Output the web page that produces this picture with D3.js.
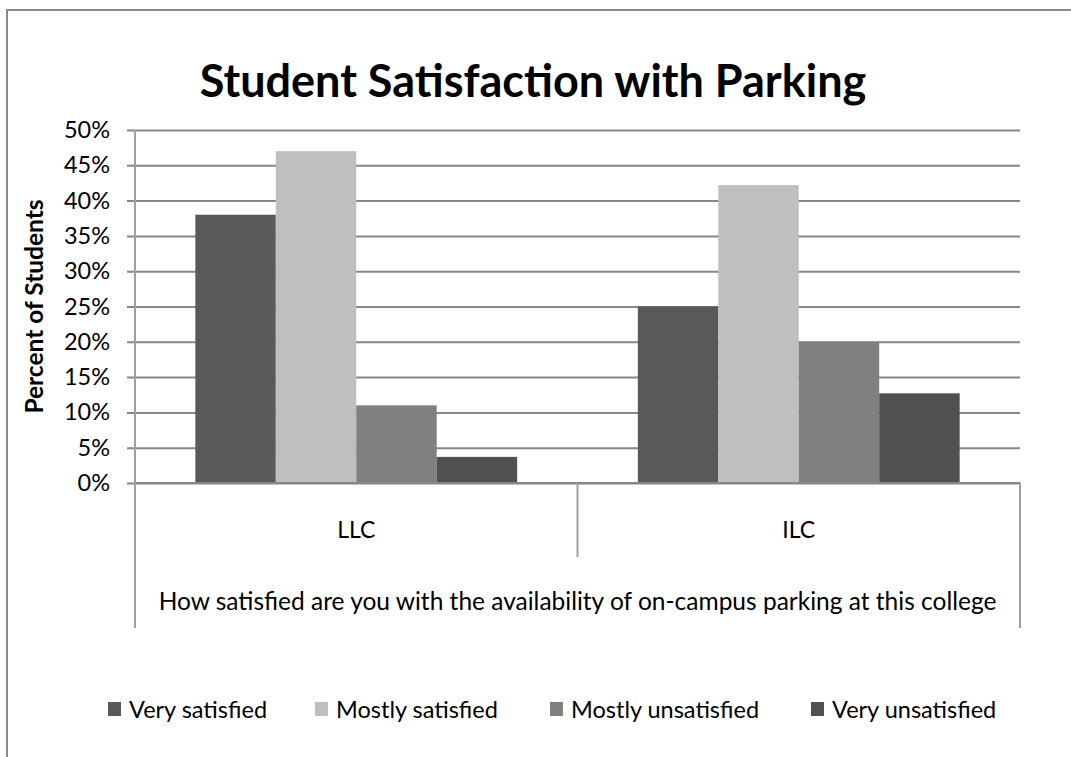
<!DOCTYPE html>
<html>
<head>
<meta charset="utf-8">
<script src="https://cdn.jsdelivr.net/npm/d3@7"></script>
<style>
  html, body { margin: 0; padding: 0; background: #fff; }
  svg { display: block; }
  text { font-family: Lato, "Open Sans", "Liberation Sans", sans-serif; fill: #000; }
</style>
</head>
<body>
<svg id="chart" width="1071" height="757"></svg>
<script>
// Survey groups and response categories
const groups = ["LLC", "ILC"];
const responses = ["Very satisfied", "Mostly satisfied", "Mostly unsatisfied", "Very unsatisfied"];
// Share of students giving each response, per group (order follows responses)
const llcValues = [0.38, 0.47, 0.11, 0.037];
const ilcValues = [0.25, 0.422, 0.20, 0.127];
const yTicks = [0, 0.05, 0.10, 0.15, 0.20, 0.25, 0.30, 0.35, 0.40, 0.45, 0.50];
const responseColors = ["#595959", "#bfbfbf", "#808080", "#505050"];

const chartTitle = "Student Satisfaction with Parking";
const yTitle = "Percent of Students";
const xTitle = "How satisfied are you with the availability of on-campus parking at this college";

const rows = groups.map((g, i) => ({
  group: g,
  values: (i === 0 ? llcValues : ilcValues).map((v, j) => ({ response: responses[j], value: v }))
}));

const svg = d3.select("#chart");
const plot = { left: 135, right: 1020, top: 130, bottom: 483 };
const gridColor = "#868686";
const axisColor = "#a0a0a0";

// Outer chart frame (extends past the right and bottom edges)
svg.append("rect")
  .attr("x", 7).attr("y", 10).attr("width", 1080).attr("height", 760)
  .attr("fill", "none").attr("stroke", "#8a8a8a").attr("stroke-width", 2);

// Scales
const x0 = d3.scaleBand().domain(groups).range([plot.left, plot.right]).paddingInner(0).paddingOuter(0);
const x1 = d3.scaleBand().domain(responses).range([0, x0.bandwidth()]).paddingInner(0).paddingOuter(0.75);
const y = d3.scaleLinear().domain([0, 0.5]).range([plot.bottom, plot.top]);
const color = d3.scaleOrdinal().domain(responses).range(responseColors);

// Horizontal gridlines with tick labels
const yAxis = d3.axisLeft(y)
  .tickValues(yTicks)
  .tickFormat(d3.format(".0%"))
  .tickSize(-(plot.right - plot.left + 8))
  .tickPadding(17);

const yG = svg.append("g")
  .attr("transform", `translate(${plot.left - 8},0)`)
  .call(yAxis);
yG.select(".domain").remove();
yG.selectAll(".tick line").attr("stroke", gridColor).attr("stroke-width", 2);
yG.selectAll(".tick text")
  .attr("font-size", 23.5)
  .attr("font-family", "Lato, 'Open Sans', 'Liberation Sans', sans-serif")
  .attr("fill", "#000");

// Bars
const groupG = svg.append("g").selectAll("g")
  .data(rows)
  .join("g")
  .attr("transform", d => `translate(${x0(d.group)},0)`);

groupG.selectAll("rect")
  .data(d => d.values)
  .join("rect")
  .attr("x", d => x1(d.response))
  .attr("width", x1.bandwidth())
  .attr("y", d => y(d.value))
  .attr("height", d => y(0) - y(d.value))
  .attr("fill", d => color(d.response));

// Category axis: baseline and divider lines
svg.append("line")
  .attr("x1", plot.left).attr("x2", plot.right)
  .attr("y1", y(0)).attr("y2", y(0))
  .attr("stroke", gridColor).attr("stroke-width", 2);

const dividers = [
  { x: plot.left, y1: plot.top, y2: 628 },
  { x: x0("ILC"), y1: y(0), y2: 557 },
  { x: plot.right, y1: y(0), y2: 628 }
];
svg.append("g").selectAll("line")
  .data(dividers)
  .join("line")
  .attr("x1", d => d.x).attr("x2", d => d.x)
  .attr("y1", d => d.y1)
  .attr("y2", d => d.y2)
  .attr("stroke", axisColor).attr("stroke-width", 2);

// Group labels
svg.append("g").selectAll("text")
  .data(groups)
  .join("text")
  .attr("x", d => x0(d) + x0.bandwidth() / 2)
  .attr("y", 538)
  .attr("text-anchor", "middle")
  .attr("font-size", 23)
  .text(d => d);

// Question text
svg.append("text")
  .attr("x", (plot.left + plot.right) / 2)
  .attr("y", 610)
  .attr("text-anchor", "middle")
  .attr("font-size", 24.5)
  .text(xTitle);

// Chart title
svg.append("text")
  .attr("x", 533)
  .attr("y", 97)
  .attr("text-anchor", "middle")
  .attr("font-size", 45)
  .attr("font-weight", "bold")
  .text(chartTitle);

// Y axis title
svg.append("text")
  .attr("transform", `translate(34, ${(plot.top + plot.bottom) / 2}) rotate(-90)`)
  .attr("text-anchor", "middle")
  .attr("dy", "0.35em")
  .attr("font-size", 24.5)
  .attr("font-weight", "bold")
  .text(yTitle);

// Legend
const legendX = [108, 315, 550, 811];
const legend = svg.append("g").selectAll("g")
  .data(responses)
  .join("g")
  .attr("transform", (d, i) => `translate(${legendX[i]}, 702)`);
legend.append("rect")
  .attr("width", 13).attr("height", 14)
  .attr("fill", d => color(d));
legend.append("text")
  .attr("x", 21).attr("y", 16)
  .attr("font-size", 23.5)
  .text(d => d);
</script>
</body>
</html>
